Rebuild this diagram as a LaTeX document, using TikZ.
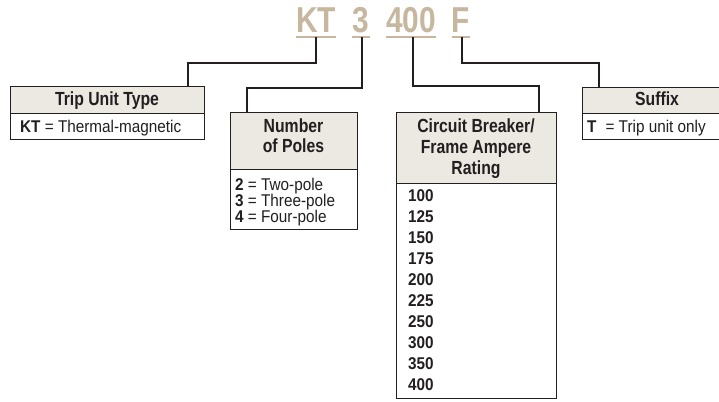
\documentclass[tikz,border=0pt]{standalone}
\usepackage{fontspec}
\setmainfont{Liberation Sans}
\newfontfamily\titlef{Liberation Sans}[FakeStretch=0.83]
\newfontfamily\headf{Liberation Sans}[FakeStretch=0.83]
\newfontfamily\bodyf{Liberation Sans}[FakeStretch=0.9]
\definecolor{tanc}{HTML}{C6B79E}
\definecolor{hdrfill}{HTML}{ECE8E2}
\definecolor{linec}{HTML}{231F20}
\begin{document}
\begin{tikzpicture}[x=1pt,y=-1pt,
  ttl/.style={inner sep=0pt, anchor=base, text=tanc, font=\titlef\bfseries\fontsize{36}{36}\selectfont},
  ul/.style={draw=tanc, line width=1.6pt},
  conn/.style={draw=linec, line width=2pt},
  hdrbox/.style={draw=linec, line width=1.2pt, fill=hdrfill, rectangle, inner sep=0pt, anchor=north west},
  bodybox/.style={draw=linec, line width=1.2pt, fill=white, rectangle, inner sep=0pt, anchor=north west},
  htxt/.style={inner sep=0pt, anchor=base, text=linec, font=\headf\bfseries\fontsize{19}{20}\selectfont},
  btxt/.style={inner sep=0pt, anchor=base west, text=linec, font=\bodyf\fontsize{17}{17}\selectfont}
]
\clip (0,0) rectangle (719,401);
\fill[white] (0,0) rectangle (719,401);

% title
\node[ttl] (kt) at (316,33) {KT};
\node[ttl] (n3) at (361,33) {3};
\node[ttl] (n400) at (411,33) {400};
\node[ttl] (nf) at (461,33) {F};
\foreach \n in {kt,n3,n400,nf}{
  \draw[ul] ([yshift=-4pt]\n.base west) -- ([yshift=-4pt]\n.base east);
}

% boxes
\node[hdrbox, minimum width=194pt, minimum height=27pt] (triph) at (10,86) {};
\node[bodybox, minimum width=194pt, minimum height=26pt] (tripb) at (10,113) {};
\node[hdrbox, minimum width=127pt, minimum height=57pt] (poleh) at (230,112) {};
\node[bodybox, minimum width=127pt, minimum height=60pt] (poleb) at (230,169) {};
\node[hdrbox, minimum width=160pt, minimum height=71pt] (cbh) at (396,112) {};
\node[bodybox, minimum width=160pt, minimum height=215pt] (cbb) at (396,183) {};
\node[hdrbox, minimum width=150pt, minimum height=26pt] (sufh) at (582,87) {};
\node[bodybox, minimum width=150pt, minimum height=26pt] (sufb) at (582,113) {};

% connectors
\coordinate (k1) at (188,63);
\draw[conn] ([yshift=-4pt]kt.base) |- (k1) -- ([xshift=178pt]triph.north west);
\coordinate (k2) at (247,88);
\draw[conn] ([xshift=1pt,yshift=-4pt]n3.base) |- (k2) -- ([xshift=17pt]poleh.north west);
\coordinate (k3) at (539,86);
\draw[conn] ([xshift=2pt,yshift=-4pt]n400.base) |- (k3) -- ([xshift=143pt]cbh.north west);
\coordinate (k4) at (599,63);
\draw[conn] ([xshift=1pt,yshift=-4pt]nf.base) |- (k4) -- ([xshift=17pt]sufh.north west);

% texts
\node[htxt] (t1) at (107,106) {Trip Unit Type};
\node[btxt] (t1b) at (20,132.5) {\textbf{KT} = Thermal-magnetic};

\node[htxt] (t2a) at (293.5,132) {Number};
\node[htxt] (t2b) at (293.5,152) {of Poles};
\node[btxt] (p2) at (235,190) {\textbf{2} = Two-pole};
\node[btxt] (p3) at (235,206) {\textbf{3} = Three-pole};
\node[btxt] (p4) at (235,222) {\textbf{4} = Four-pole};

\node[htxt] (t3a) at (476,132) {Circuit Breaker/};
\node[htxt] (t3b) at (476,153) {Frame Ampere};
\node[htxt] (t3c) at (476,174) {Rating};
\foreach \v [count=\i from 0] in {100,125,150,175,200,225,250,300,350,400}{
  \node[btxt] (cb\v) at (408,{201.5+21*\i}) {\textbf{\v}};
}

\node[htxt] (t4) at (657,106) {Suffix};
\node[btxt] (s1) at (587,132.5) {\textbf{T}\hspace{9pt}= Trip unit only};
\end{tikzpicture}
\end{document}
